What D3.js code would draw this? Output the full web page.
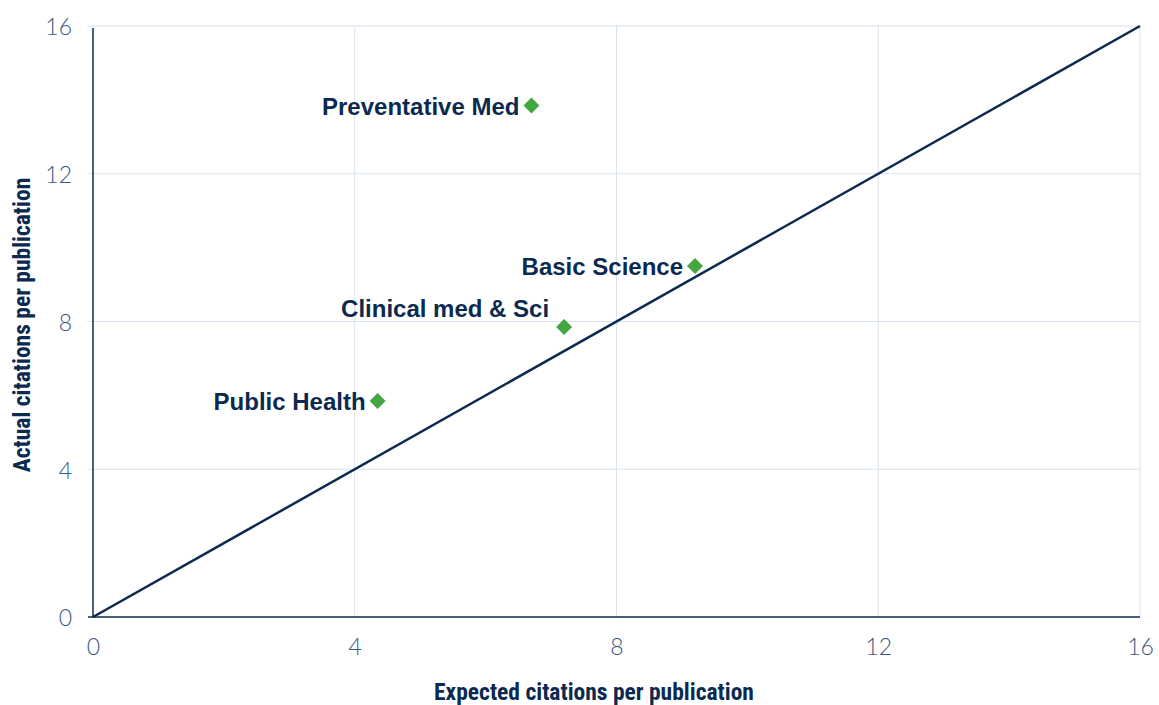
<!DOCTYPE html>
<html><head><meta charset="utf-8">
<script src="https://cdn.jsdelivr.net/npm/d3@7"></script>
<style>body{margin:0;background:#fff}</style>
</head><body>
<svg id="c" width="1159" height="705"></svg>
<script>
const categories = ["Preventative Med", "Basic Science", "Clinical med & Sci", "Public Health"];
const expected = [6.7, 9.2, 7.2, 4.35];
const actual = [13.85, 9.5, 7.85, 5.85];
const labelPos = ["left", "left", "above", "left"];
const xTicks = [0, 4, 8, 12, 16];
const yTicks = [0, 4, 8, 12, 16];
const refLine = [[0, 0], [16, 16]];

const svg = d3.select("#c");
const m = {l: 93, r: 1140, t: 26, b: 617};
const x = d3.scaleLinear().domain([0, 16]).range([m.l, m.r]);
const y = d3.scaleLinear().domain([0, 16]).range([m.b, m.t]);
const navy = "#0c2a4f", grid = "#d9e2ee", tickC = "#3a5880";

// gridlines
svg.append("g").selectAll("line").data(yTicks.filter(d => d > 0)).join("line")
  .attr("x1", m.l - 6).attr("x2", m.r).attr("y1", d => y(d)).attr("y2", d => y(d))
  .attr("stroke", grid).attr("stroke-width", 1);
svg.append("g").selectAll("line").data(xTicks.filter(d => d > 0)).join("line")
  .attr("x1", d => x(d)).attr("x2", d => x(d)).attr("y1", m.t).attr("y2", m.b)
  .attr("stroke", grid).attr("stroke-width", 1);

// axes
const xAxis = d3.axisBottom(x).tickValues(xTicks).tickSize(0).tickPadding(22);
const gx = svg.append("g").attr("transform", `translate(0,${m.b})`).call(xAxis);
gx.select(".domain").remove();
gx.selectAll("text").attr("fill", tickC).attr("font-size", 23).attr("font-family", "Lato, 'Open Sans', sans-serif").attr("font-weight", 300);

const yAxis = d3.axisLeft(y).tickValues(yTicks).tickSize(0).tickPadding(21);
const gy = svg.append("g").attr("transform", `translate(${m.l},0)`).call(yAxis);
gy.select(".domain").remove();
gy.selectAll("text").attr("fill", tickC).attr("font-size", 23).attr("font-family", "Lato, 'Open Sans', sans-serif").attr("font-weight", 300).attr("dy", "0.38em");

// axis lines
svg.append("line").attr("x1", m.l - 5).attr("x2", m.r).attr("y1", m.b).attr("y2", m.b).attr("stroke", navy).attr("stroke-width", 1.5);
svg.append("line").attr("x1", m.l).attr("x2", m.l).attr("y1", m.t + 2).attr("y2", m.b).attr("stroke", navy).attr("stroke-width", 1.5);

// reference line
svg.append("path").datum(refLine)
  .attr("d", d3.line().x(d => x(d[0])).y(d => y(d[1])))
  .attr("stroke", navy).attr("stroke-width", 2.5).attr("fill", "none");

// points
const pts = categories.map((c, i) => ({c, ex: expected[i], ac: actual[i], pos: labelPos[i]}));
svg.append("g").selectAll("path").data(pts).join("path")
  .attr("d", d3.symbol().type(d3.symbolSquare).size(128))
  .attr("transform", d => `translate(${x(d.ex)},${y(d.ac)}) rotate(45)`)
  .attr("fill", "#43a640");

svg.append("g").selectAll("text").data(pts).join("text")
  .attr("x", d => d.pos === "above" ? x(d.ex) - 15 : x(d.ex) - 12)
  .attr("y", d => d.pos === "above" ? y(d.ac) - 18 : y(d.ac) + 1)
  .attr("dy", "0.35em")
  .attr("text-anchor", "end")
  .attr("fill", navy).attr("font-size", 24).attr("font-weight", "bold")
  .attr("font-family", "'Liberation Sans', Arial, sans-serif")
  .text(d => d.c);

// axis titles
svg.append("text").attr("x", 594).attr("y", 700).attr("text-anchor", "middle")
  .attr("fill", navy).attr("font-size", 23.5).attr("font-weight", "bold")
  .attr("font-family", "'Liberation Sans Narrow', 'Roboto Condensed', sans-serif")
  .text("Expected citations per publication");
svg.append("text").attr("transform", `translate(30,325) rotate(-90)`).attr("text-anchor", "middle")
  .attr("fill", navy).attr("font-size", 23.5).attr("font-weight", "bold")
  .attr("font-family", "'Liberation Sans Narrow', 'Roboto Condensed', sans-serif")
  .text("Actual citations per publication");
</script>
</body></html>
